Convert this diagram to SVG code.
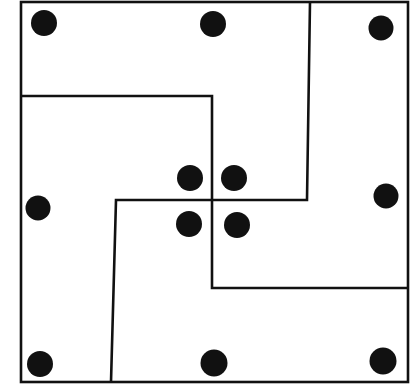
<svg xmlns="http://www.w3.org/2000/svg" width="419" height="388" viewBox="0 0 419 388">
<style>
.ln{fill:none;stroke:#111;stroke-width:2.6;stroke-linejoin:miter}
.dot{fill:#111}
</style>
<rect width="419" height="388" fill="#fff"/>
<g id="connectors">
<rect class="ln" x="21" y="2" width="387" height="380"/>
<polyline class="ln" points="21,96 212,96 212,288 408,288"/>
<polyline class="ln" points="310,2 307,200 116,200 111,382"/>
</g>
<g id="dot-top-left"><circle class="dot" cx="44" cy="23" r="13"/></g>
<g id="dot-top-mid"><circle class="dot" cx="213" cy="24" r="13"/></g>
<g id="dot-top-right"><circle class="dot" cx="381" cy="28" r="12.5"/></g>
<g id="dot-c1"><circle class="dot" cx="190" cy="178" r="13"/></g>
<g id="dot-c2"><circle class="dot" cx="234" cy="178" r="13"/></g>
<g id="dot-c3"><circle class="dot" cx="189" cy="224" r="13"/></g>
<g id="dot-c4"><circle class="dot" cx="237" cy="225" r="13"/></g>
<g id="dot-mid-left"><circle class="dot" cx="38" cy="208" r="12.5"/></g>
<g id="dot-mid-right"><circle class="dot" cx="386" cy="196" r="12.5"/></g>
<g id="dot-bot-left"><circle class="dot" cx="40" cy="364" r="13"/></g>
<g id="dot-bot-mid"><circle class="dot" cx="214" cy="363" r="13.5"/></g>
<g id="dot-bot-right"><circle class="dot" cx="383" cy="361" r="13.5"/></g>
</svg>
